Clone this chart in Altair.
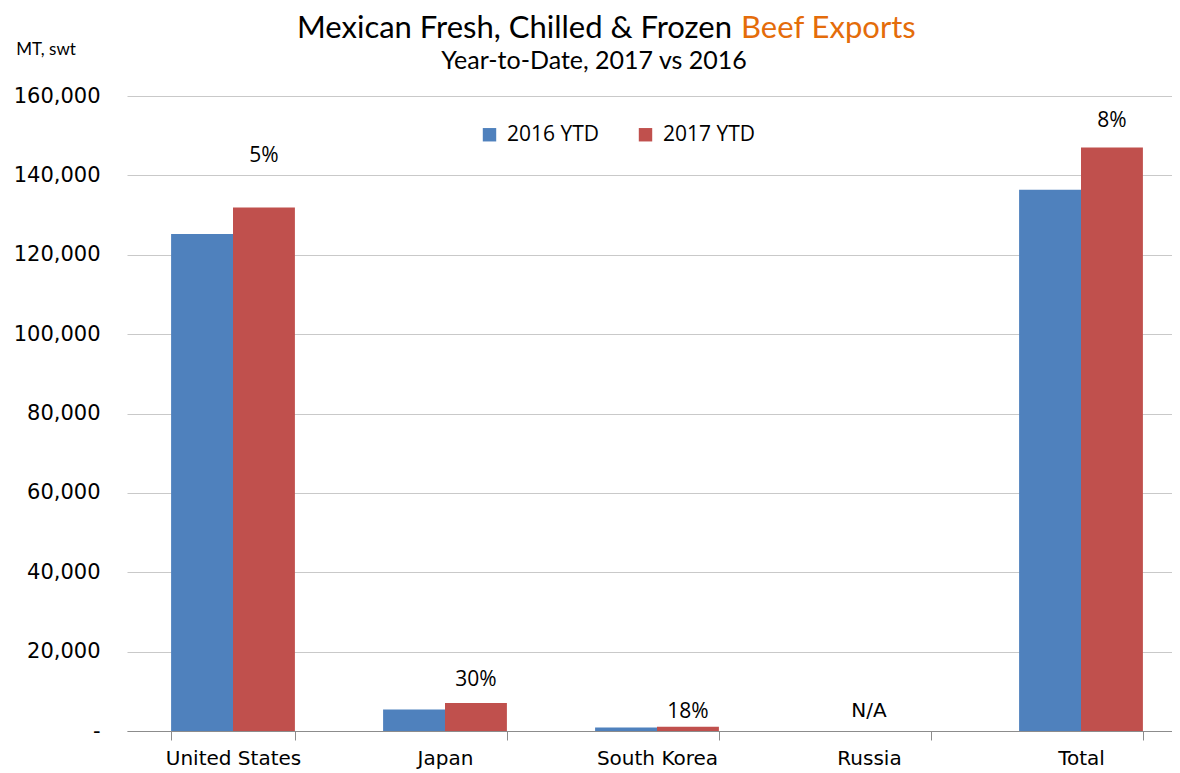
import altair as alt
import pandas as pd

categories = ["United States", "Japan", "South Korea", "Russia", "Total"]
series = ["2016 YTD", "2017 YTD"]
ytd_2016 = [125200, 5400, 900, 0, 136400]
ytd_2017 = [131900, 7050, 1070, 0, 147000]
change_labels = ["5%", "30%", "18%", "N/A", "8%"]
label_heights = [144900, 12900, 4800, 5000, 153700]
y_ticks = [0, 20000, 40000, 60000, 80000, 100000, 120000, 140000, 160000]

colors = ["#4F81BD", "#C0504D"]

rows = []
for c, a, b in zip(categories, ytd_2016, ytd_2017):
    rows.append({"category": c, "series": series[0], "value": a})
    rows.append({"category": c, "series": series[1], "value": b})
bars_df = pd.DataFrame(rows)

labels_df = pd.DataFrame({
    "category": categories,
    "series": [series[1]] * len(categories),
    "text": change_labels,
    "pos": label_heights,
})

x_enc = alt.X(
    "category:N",
    sort=categories,
    scale=alt.Scale(paddingInner=0.416, paddingOuter=0.208, range=[0, 1060]),
    axis=alt.Axis(
        title=None, labelAngle=0, labelFont="DejaVu Sans", labelFontSize=20,
        labelColor="#000000", tickBand="extent", tickSize=9, tickColor="#8C8C8C",
        domainColor="#8C8C8C", labelPadding=8, grid=False,
    ),
)
y_scale = alt.Scale(domain=[0, 160000], nice=False)
y_enc = alt.Y(
    "value:Q",
    scale=y_scale,
    axis=alt.Axis(
        title=None, values=y_ticks, labelFont="DejaVu Sans", labelFontSize=21,
        labelColor="#000000", labelPadding=27, tickSize=0, domain=False,
        gridColor="#C9C9C9", gridWidth=1,
        labelExpr="datum.value == 0 ? '-' : format(datum.value, ',')",
    ),
)

bars = alt.Chart(bars_df).mark_bar().encode(
    x=x_enc,
    xOffset=alt.XOffset("series:N", sort=series, scale=alt.Scale(domain=series, paddingInner=0, paddingOuter=0)),
    y=y_enc,
    color=alt.Color(
        "series:N",
        sort=series,
        scale=alt.Scale(domain=series, range=colors),
        legend=alt.Legend(
            title=None, orient="none", direction="horizontal", legendX=352, legendY=28,
            symbolType="square", symbolSize=180, symbolStrokeWidth=0, labelFont="Open Sans",
            labelFontSize=21, labelColor="#000000", labelOffset=7, columnPadding=35,
        ),
    ),
)

pct_labels = alt.Chart(labels_df).transform_filter("datum.text != 'N/A'").mark_text(
    font="Open Sans", fontSize=21, color="#000000", baseline="middle", align="center"
).encode(
    x=alt.X("category:N", sort=categories),
    xOffset=alt.XOffset("series:N", sort=series),
    y=alt.Y("pos:Q", scale=y_scale),
    text="text:N",
)

na_labels = alt.Chart(labels_df).transform_filter("datum.text == 'N/A'").mark_text(
    font="DejaVu Sans", fontSize=20, color="#000000", baseline="middle", align="center"
).encode(
    x=alt.X("category:N", sort=categories),
    y=alt.Y("pos:Q", scale=y_scale),
    text="text:N",
)

one = pd.DataFrame({"k": [0]})
title_a = alt.Chart(one).mark_text(
    text="Mexican Fresh, Chilled & Frozen", font="Lato", fontSize=31, color="#000000",
    align="right", baseline="middle"
).encode(x=alt.value(605), y=alt.value(-67))
title_b = alt.Chart(one).mark_text(
    text="Beef Exports", font="Lato", fontSize=31, color="#E46C0A",
    align="left", baseline="middle"
).encode(x=alt.value(614), y=alt.value(-67))
subtitle = alt.Chart(one).mark_text(
    text="Year-to-Date, 2017 vs 2016", font="Lato", fontSize=25, color="#000000",
    align="center", baseline="middle"
).encode(x=alt.value(467), y=alt.value(-35))
unit = alt.Chart(one).mark_text(
    text="MT, swt", font="Lato", fontSize=17, color="#000000",
    align="center", baseline="middle"
).encode(x=alt.value(-81), y=alt.value(-46))

chart = alt.layer(bars, pct_labels, na_labels, title_a, title_b, subtitle, unit).properties(
    width=1045, height=635,
    autosize=alt.AutoSizeParams(type="none"),
    padding={"left": 119, "top": 88, "right": 0, "bottom": 42},
    background="#FFFFFF",
).configure_view(stroke=None)

chart.save("out.html", embed_options={"renderer": "svg", "actions": False})
